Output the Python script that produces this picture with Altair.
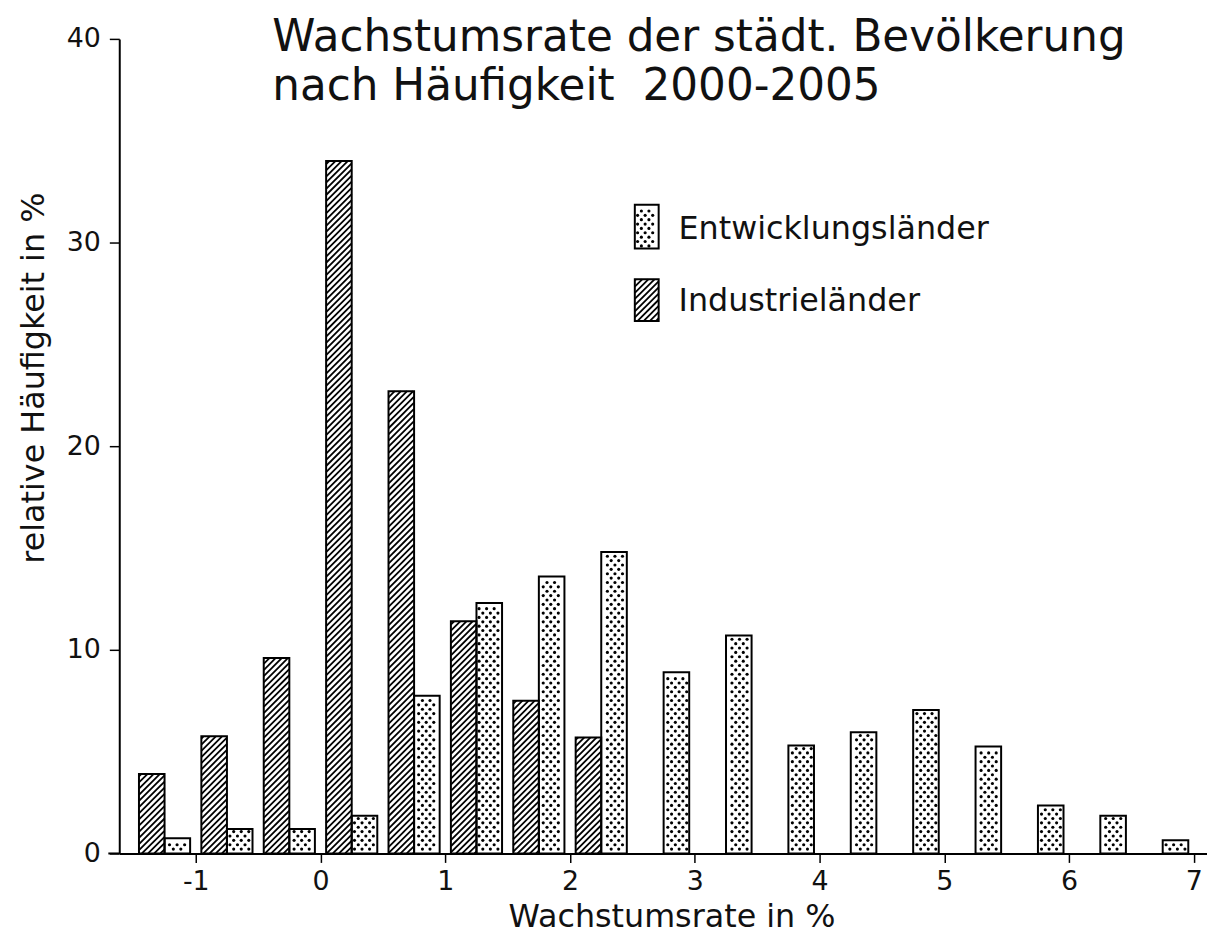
import altair as alt
import pandas as pd
import numpy as np

# ---------------- data ----------------
bin_centers = [-1.25, -0.75, -0.25, 0.25, 0.75, 1.25, 1.75, 2.25, 2.75,
               3.25, 3.75, 4.25, 4.75, 5.25, 5.75, 6.25, 6.75]
industrielaender = [3.9, 5.75, 9.6, 34.0, 22.7, 11.4, 7.5, 5.7]
entwicklungslaender = [0.75, 1.2, 1.2, 1.85, 7.75, 12.3, 13.6, 14.8, 8.9,
                       10.7, 5.3, 5.95, 7.05, 5.25, 2.35, 1.85, 0.65]
x_ticks = [-1, 0, 1, 2, 3, 4, 5, 6, 7]
y_ticks = [0, 10, 20, 30, 40]
series_names = ["Entwicklungsländer", "Industrieländer"]
title_lines = ["Wachstumsrate der städt. Bevölkerung", "nach Häufigkeit\u00a0 2000-2005"]
x_title = "Wachstumsrate in %"
y_title = "relative Häufigkeit in %"

# ---------------- layout / style ----------------
W, H = 1095, 820
X_DOM = [-1.613, 7.105]
Y_DOM = [0, 40]
BAR_W = 0.205
SX = W / (X_DOM[1] - X_DOM[0])
SY = H / (Y_DOM[1] - Y_DOM[0])
FONT = "DejaVu Sans"
INK = "#111111"
HATCH_STEP = 6.2
DOT_DX, DOT_DY = 7.6, 4.4

xs = alt.Scale(domain=X_DOM, nice=False, zero=False)
ys = alt.Scale(domain=Y_DOM, nice=False, zero=False)


def hatch(x0, x1, y0, y1):
    """Diagonal '/' hatch lines inside a data rectangle (computed in pixel space)."""
    X0, X1, Y0, Y1 = x0 * SX, x1 * SX, y0 * SY, y1 * SY
    out = []
    k = np.floor((X0 - Y1) / HATCH_STEP) * HATCH_STEP
    while k <= X1 - Y0:
        lo = max(X0, Y0 + k)
        hi = min(X1, Y1 + k)
        if hi - lo > 0.3:
            out.append({"x": lo / SX, "x2": hi / SX,
                        "y": (lo - k) / SY, "y2": (hi - k) / SY})
        k += HATCH_STEP
    return out


def dots(x0, x1, y0, y1, m=2.5):
    """Staggered dot texture inside a data rectangle."""
    X0, X1, Y0, Y1 = x0 * SX, x1 * SX, y0 * SY, y1 * SY
    out = []
    j0 = int(np.ceil((Y0 + m) / DOT_DY))
    j1 = int(np.floor((Y1 - m) / DOT_DY))
    for j in range(j0, j1 + 1):
        off = (j % 2) * DOT_DX / 2
        i0 = int(np.ceil((X0 + m - off) / DOT_DX))
        i1 = int(np.floor((X1 - m - off) / DOT_DX))
        for i in range(i0, i1 + 1):
            out.append({"x": (i * DOT_DX + off) / SX, "y": j * DOT_DY / SY})
    return out


# bars
bar_rows = []
for i, c in enumerate(bin_centers):
    if i < len(industrielaender):
        bar_rows.append({"x": c - BAR_W, "x2": c, "y": 0, "y2": industrielaender[i],
                         "serie": series_names[1]})
    bar_rows.append({"x": c, "x2": c + BAR_W, "y": 0, "y2": entwicklungslaender[i],
                     "serie": series_names[0]})


# legend swatches (pixel layout -> data units)
def px2x(px):
    return X_DOM[0] + px / SX


def py2y(py):
    return Y_DOM[1] - py / SY


LEG_X0, LEG_X1 = 519, 543
leg_rects = [
    {"x": px2x(LEG_X0), "x2": px2x(LEG_X1), "y": py2y(211), "y2": py2y(167), "serie": series_names[0]},
    {"x": px2x(LEG_X0), "x2": px2x(LEG_X1), "y": py2y(284), "y2": py2y(242), "serie": series_names[1]},
]

all_rects = bar_rows + leg_rects
hatch_rows, dot_rows = [], []
for r in all_rects:
    if r["serie"] == series_names[1]:
        hatch_rows += hatch(r["x"], r["x2"], r["y"], r["y2"])
    else:
        dot_rows += dots(r["x"], r["x2"], r["y"], r["y2"])

rect_df = pd.DataFrame(all_rects)
hatch_df = pd.DataFrame(hatch_rows)
dot_df = pd.DataFrame(dot_rows)

x_axis = alt.Axis(values=x_ticks, labelExpr="'' + datum.value", title=x_title, grid=False,
                  domainColor="black", domainWidth=2, tickColor="black", tickWidth=1.5,
                  tickSize=9, labelFont=FONT, labelFontSize=27, labelColor=INK,
                  labelPadding=6, labelFlush=False, labelOverlap=False,
                  titleFont=FONT, titleFontSize=32, titleFontWeight="normal",
                  titleColor=INK, titleX=556, titleY=74, titleBaseline="alphabetic")
y_axis = alt.Axis(values=y_ticks, title=y_title, grid=False,
                  domainColor="black", domainWidth=2, tickColor="black", tickWidth=1.5,
                  tickSize=10, labelFont=FONT, labelFontSize=27, labelColor=INK,
                  labelPadding=9, labelFlush=False, labelOverlap=False,
                  titleFont=FONT, titleFontSize=32, titleFontWeight="normal",
                  titleColor=INK, titleX=-76, titleY=341, titleBaseline="alphabetic",
                  titleAngle=270)

X = alt.X("x:Q", scale=xs, axis=x_axis)
Y = alt.Y("y:Q", scale=ys, axis=y_axis)

base_rects = alt.Chart(rect_df).mark_rect(fill="white", stroke=None).encode(
    x=X, x2="x2:Q", y=Y, y2="y2:Q",
)

hatch_layer = alt.Chart(hatch_df).mark_rule(color="black", strokeWidth=1.8).encode(
    x=X, x2="x2:Q", y=Y, y2="y2:Q",
)

dot_layer = alt.Chart(dot_df).mark_circle(color="black", size=10, opacity=1).encode(
    x=X, y=Y,
)

outline = alt.Chart(rect_df).mark_rect(fillOpacity=0, stroke="black", strokeWidth=2).encode(
    x=X, x2="x2:Q", y=Y, y2="y2:Q",
)

axis_ext = alt.Chart(pd.DataFrame({"a": [0]})).mark_rule(color="black", strokeWidth=2).encode(
    x=alt.value(-11), x2=alt.value(0), y=alt.value(H)
)

title_text = alt.Chart(pd.DataFrame({"t": ["\n".join(title_lines)]})).mark_text(
    font=FONT, fontSize=44, color=INK, align="left", baseline="alphabetic",
    lineBreak="\n", lineHeight=50
).encode(text="t:N", x=alt.value(154), y=alt.value(12))

leg_text_1 = alt.Chart(pd.DataFrame({"t": [series_names[0]]})).mark_text(
    font=FONT, fontSize=32, color=INK, align="left", baseline="alphabetic"
).encode(text="t:N", x=alt.value(563), y=alt.value(201))

leg_text_2 = alt.Chart(pd.DataFrame({"t": [series_names[1]]})).mark_text(
    font=FONT, fontSize=32, color=INK, align="left", baseline="alphabetic"
).encode(text="t:N", x=alt.value(563), y=alt.value(274))

chart = alt.layer(
    base_rects, hatch_layer, dot_layer, outline, axis_ext,
    title_text, leg_text_1, leg_text_2
).properties(
    width=W, height=H,
    padding={"left": 112, "top": 28, "right": 0, "bottom": 82},
    autosize=alt.AutoSizeParams(type="none"),
    background="white",
).configure_view(stroke=None)

chart.save("out.html", embed_options={"renderer": "svg", "actions": False})
